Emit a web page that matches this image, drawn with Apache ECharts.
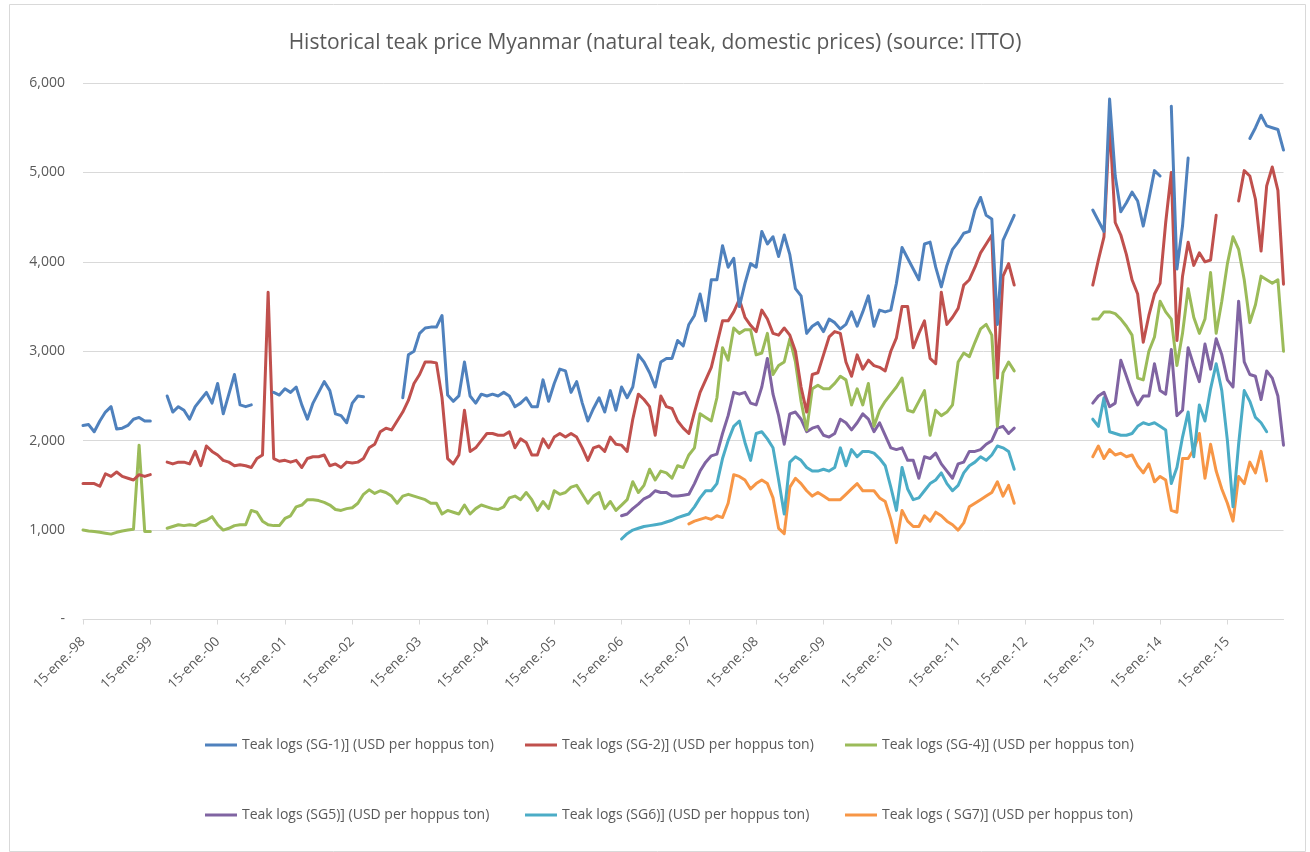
<!DOCTYPE html>
<html>
<head>
<meta charset="utf-8">
<script src="https://cdn.jsdelivr.net/npm/echarts@6/dist/echarts.min.js"></script>
<style>
html,body{margin:0;padding:0;background:#fff;}
#chart{width:1310px;height:852px;}
</style>
</head>
<body>
<div id="chart"></div>
<script>
// ---- Data ----
const START_YEAR = 1998;
const N_MONTHS = 215; // Jan 1998 .. Nov 2015
const MONTH_ABBR = ['ene.','feb.','mar.','abr.','may.','jun.','jul.','ago.','sep.','oct.','nov.','dic.'];
const Y_TICKS = [0, 1000, 2000, 3000, 4000, 5000, 6000];

const SERIES_NAMES = [
  'Teak logs (SG-1)] (USD per hoppus ton)',
  'Teak logs (SG-2)] (USD per hoppus ton)',
  'Teak logs (SG-4)] (USD per hoppus ton)',
  'Teak logs (SG5)] (USD per hoppus ton)',
  'Teak logs (SG6)] (USD per hoppus ton)',
  'Teak logs ( SG7)] (USD per hoppus ton)'
];

// Each segment: [startMonthIndex, values...]  (month 0 = Jan 1998)
const SG1_SEGMENTS = [
  [0, [2170,2180,2100,2220,2320,2380,2130,2140,2170,2240,2260,2220,2220]],
  [15, [2500,2320,2380,2340,2240,2380,2460,2540,2420,2640,2300,2520,2740,2400,2380,2400]],
  [34, [2540,2510,2580,2540,2600,2400,2240,2420,2540,2660,2560,2300,2280,2200,2420,2500,2490]],
  [57, [2480,2960,3000,3200,3260,3270,3270,3400,2510,2440,2500,2880,2500,2420,2520,2500,2520,2500,2540,2500,2380,2420,
        2480,2380,2380,2680,2440,2640,2800,2780,2540,2660,2420,2220,2360,2480,2320,2560,2340,2600,2480,2600,
        2960,2880,2760,2600,2880,2920,2920,3120,3060,3300,3400,3640,3340,3800,3800,4180,3940,4040,3500,3760,3980,
        3940,4340,4200,4280,4060,4300,4080,3700,3620,3200,3280,3320,3220,3360,3320,3250,3300,3440,3280,3440,
        3620,3280,3460,3440,3460,3760,4160,4040,3920,3800,4200,4220,3940,3720,3960,4140,4220,4320,4340,4580,4720,4520,4480,3300,4240,4380,4520]],
  [180, [4580,4460,4340,5820,4960,4560,4660,4780,4680,4400,4700,5020,4960]],
  [194, [5740,3920,4400,5160]],
  [208, [5380,5500,5640,5520,5500,5480,5250]]
];
const SG2_SEGMENTS = [
  [0, [1520,1520,1520,1490,1630,1600,1650,1600,1580,1560,1620,1600,1620]],
  [15, [1760,1740,1760,1760,1740,1880,1720,1940,1880,1840,1780,1760,1720,1730,1720,1700,1800,1840,3660,1800,1770,1780,
        1760,1780,1700,1800,1820,1820,1840,1720,1740,1700,1760,1750,1760,1800,1920,1960,2100,2140,2120,2220,
        2320,2450,2640,2740,2880,2880,2870,2480,1800,1740,1840,2340,1880,1920,2000,2080,2080,2060,2060,2100,
        1920,2020,1980,1840,1840,2020,1920,2040,2080,2040,2080,2040,1920,1780,1920,1940,1880,2040,1960,1950,1880,
        2240,2520,2460,2380,2060,2500,2380,2360,2220,2140,2080,2320,2540,2680,2820,3080,3340,3340,3440,3580,3380,3290,
        3220,3460,3360,3200,3180,3260,3180,3000,2600,2320,2740,2760,2960,3160,3220,3200,2880,2720,2960,2800,
        2900,2840,2820,2780,3000,3150,3500,3500,3040,3200,3340,2920,2860,3660,3300,3380,3480,3740,3800,3940,4100,4200,4300,2700,3840,3980,3740]],
  [180, [3740,4020,4280,5560,4440,4300,4080,3800,3640,3100,3400,3640,3760,4440,5000,3120,3840,4220,3960,4100,4000,4020,4520]],
  [206, [4680,5020,4960,4700,4120,4850,5060,4800,3750]]
];
const SG4_SEGMENTS = [
  [0, [1000,990,985,975,965,955,975,990,1000,1010,1950,985,985]],
  [15, [1020,1040,1060,1050,1060,1050,1090,1110,1150,1060,1000,1020,1050,1060,1060,1220,1200,1100,1060,1050,1050,1130,
        1160,1260,1280,1340,1340,1330,1310,1280,1230,1220,1240,1250,1300,1400,1450,1410,1440,1420,1380,1300,
        1380,1400,1380,1360,1340,1300,1300,1180,1220,1200,1180,1280,1180,1240,1280,1260,1240,1230,1260,1360,1380,1340,
        1420,1340,1220,1320,1240,1440,1400,1420,1480,1500,1400,1300,1380,1420,1240,1320,1220,1280,1340,1540,
        1420,1500,1680,1560,1660,1640,1580,1720,1700,1840,1920,2300,2260,2220,2480,3040,2900,3260,3200,3240,3240,
        2960,2980,3200,2740,2840,2880,3140,2880,2440,2120,2580,2620,2580,2580,2640,2720,2680,2400,2580,2400,
        2640,2160,2340,2440,2520,2600,2700,2340,2320,2440,2560,2060,2340,2280,2320,2400,2880,2980,2940,3100,3250,3300,3180,2160,2760,2880,2780]],
  [180, [3360,3360,3440,3440,3420,3360,3280,3180,2700,2680,3000,3160,3560,3440,3360,2840,3200,3700,3380,3200,3360,3880,3200,3560,3980,4280,4140,3800,3320,3520,3840,3800,3760,3800,3000]]
];
const SG5_SEGMENTS = [
  [96, [1160,1180,1240,1290,1350,1380,1440,1420,1420,1380,1380,1390,1400,1520,1660,1760,1830,1850,2080,2280,2540,2520,2540,2420,
        2400,2600,2920,2520,2280,1960,2300,2320,2240,2100,2140,2160,2060,2040,2080,2240,2200,2120,2200,2300,
        2240,2100,2200,2060,1920,1900,1920,1780,1780,1580,1820,1800,1860,1740,1660,1580,1740,1760,1880,1880,1900,1960,2000,2140,2160,2080,2140]],
  [180, [2420,2500,2540,2380,2420,2900,2720,2540,2400,2500,2500,2860,2560,2520,3020,2280,2340,3040,2840,2660,3080,2800,3140,2960,2680,2600,3560,2880,2740,2720,2460,2780,2700,2500,1950]]
];
const SG6_SEGMENTS = [
  [96, [900,960,1000,1020,1040,1050,1060,1070,1090,1110,1140,1160,1180,1260,1360,1440,1440,1520,1800,2000,2160,2220,1980,1780,
        2080,2100,2020,1920,1560,1180,1760,1820,1780,1700,1660,1660,1680,1660,1700,1920,1720,1900,1820,1880,
        1880,1860,1800,1720,1480,1220,1700,1460,1340,1360,1440,1520,1560,1640,1520,1440,1500,1640,1720,1760,1820,1780,1840,1940,1920,1880,1680]],
  [180, [2240,2160,2480,2100,2080,2060,2060,2080,2160,2200,2180,2200,2160,2120,1520,1700,2040,2320,1820,2400,2220,2580,2860,2560,2000,1260,1960,2560,2440,2260,2200,2100]]
];
const SG7_SEGMENTS = [
  [108, [1070,1100,1120,1140,1120,1160,1140,1300,1620,1600,1560,1460,1520,1560,1520,1360,1020,960,1480,1580,1520,1440,1380,1420,1380,1340,1340,1340,1400,1460,1520,1440,
         1440,1440,1360,1320,1120,860,1220,1100,1040,1040,1160,1100,1200,1160,1100,1060,1000,1080,1260,1300,1340,1380,1420,1540,1380,1500,1300]],
  [180, [1820,1940,1800,1900,1840,1860,1820,1840,1720,1640,1740,1540,1600,1560,1220,1200,1800,1800,1900,2080,1580,1960,1660,1460,1300,1100,1600,1520,1760,1640,1880,1550]]
];

const COLORS = ['#4F81BD', '#C0504D', '#9BBB59', '#8064A2', '#4BACC6', '#F79646'];
const TITLE = 'Historical teak price Myanmar (natural teak, domestic prices) (source: ITTO)';

// ---- Build ----
function buildSeries(segments) {
  const arr = new Array(N_MONTHS).fill(null);
  segments.forEach(([start, vals]) => vals.forEach((v, i) => { arr[start + i] = v; }));
  return arr;
}
const categories = [];
for (let i = 0; i < N_MONTHS; i++) {
  const y = START_YEAR + Math.floor(i / 12);
  categories.push('15-' + MONTH_ABBR[i % 12] + '-' + String(y % 100).padStart(2, '0'));
}
const allSegments = [SG1_SEGMENTS, SG2_SEGMENTS, SG4_SEGMENTS, SG5_SEGMENTS, SG6_SEGMENTS, SG7_SEGMENTS];

const FONT = 'Open Sans';
const TXT = '#595959';
const legendPos = [[200,733],[520,733],[840,733],[200,803],[520,803],[840,803]];

const option = {
  animation: false,
  backgroundColor: '#ffffff',
  graphic: [{
    type: 'rect', left: 7, top: 2, z: -10, silent: true,
    shape: {width: 1296, height: 847},
    style: {fill: 'none', stroke: '#d9d9d9', lineWidth: 1}
  }],
  title: {
    text: TITLE, left: 'center', top: 28,
    textStyle: {fontFamily: FONT, fontSize: 21, fontWeight: 'normal', color: TXT}
  },
  legend: SERIES_NAMES.map((n, i) => ({
    data: [n], left: legendPos[i][0], top: legendPos[i][1],
    icon: 'rect', itemWidth: 32, itemHeight: 3, itemGap: 0,
    textStyle: {fontFamily: FONT, fontSize: 14, color: TXT},
    selectedMode: false
  })),
  grid: {left: 83, top: 83, width: 1200.5, height: 536.5, containLabel: false},
  xAxis: {
    type: 'category', data: categories, boundaryGap: false,
    axisLine: {lineStyle: {color: '#d9d9d9', width: 1}},
    axisTick: {show: true, interval: (i) => i % 12 === 0, length: 5, lineStyle: {color: '#d9d9d9'}},
    axisLabel: {interval: (i) => i % 12 === 0, rotate: 45, margin: 20,
      fontFamily: FONT, fontSize: 13.5, color: TXT},
    splitLine: {show: false}
  },
  yAxis: {
    type: 'value', min: Y_TICKS[0], max: Y_TICKS[Y_TICKS.length - 1], interval: 1000,
    axisLine: {show: false}, axisTick: {show: false},
    axisLabel: {margin: 18, fontFamily: FONT, fontSize: 14, color: TXT,
      formatter: (v) => v === 0 ? '-' : v.toLocaleString('en-US')},
    splitLine: {lineStyle: {color: '#d9d9d9', width: 1}}
  },
  series: SERIES_NAMES.map((n, i) => ({
    name: n, type: 'line', data: buildSeries(allSegments[i]),
    showSymbol: false, symbol: 'none', connectNulls: false,
    lineStyle: {width: 3, color: COLORS[i], join: 'round', cap: 'round'},
    itemStyle: {color: COLORS[i]},
    z: 10 - i
  }))
};

const chart = echarts.init(document.getElementById('chart'), null, {renderer: 'canvas'});
chart.setOption(option);
</script>
</body>
</html>
